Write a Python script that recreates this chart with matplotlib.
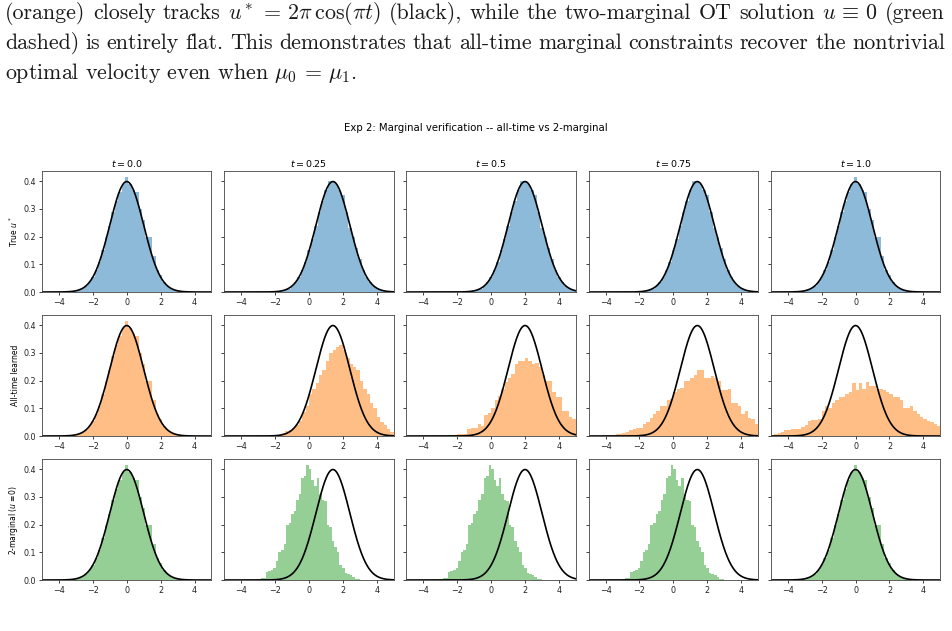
import numpy as np
import matplotlib
matplotlib.use('Agg')
import matplotlib.pyplot as plt

# ---------------- data ----------------
times = [0.0, 0.25, 0.5, 0.75, 1.0]
means = [0.0, 1.414, 2.0, 1.414, 0.0]   # mean of the true marginal (black curve), std = 1
sigma = 1.0
row_labels = ['True $u^*$', 'All-time learned', '2-marginal ($u\\equiv 0$)']
suptitle = 'Exp 2: Marginal verification -- all-time vs 2-marginal'

# standard-normal-like sample histogram (bin centres -4.0 .. 4.0, width 0.2)
gauss_a = [0, 0, 0, 0.001, 0.002, 0.004, 0.008, 0.013, 0.022, 0.035, 0.054,
           0.08, 0.11, 0.15, 0.20, 0.24, 0.29, 0.33, 0.36, 0.39, 0.415,
           0.39, 0.37, 0.36, 0.30, 0.26, 0.20, 0.20, 0.13, 0.08, 0.06,
           0.035, 0.022, 0.013, 0.008, 0.004, 0.002, 0.001, 0, 0, 0]
# shifted true-marginal histogram (centres relative to the mean, -4.0 .. 4.0)
gauss_b = [0, 0, 0, 0, 0, 0.004, 0.006, 0.012, 0.02, 0.035, 0.055,
           0.08, 0.11, 0.15, 0.19, 0.24, 0.29, 0.33, 0.37, 0.40, 0.40,
           0.39, 0.37, 0.35, 0.29, 0.23, 0.20, 0.16, 0.12, 0.08, 0.055,
           0.035, 0.022, 0.013, 0.008, 0.004, 0, 0, 0, 0, 0]
# all-time learned histograms (bin centres -4.9 .. 4.9, width 0.2)
learned_t025 = [0] * 15 + [
    0.003, 0.005, 0.01, 0.018, 0.022, 0.028, 0.038, 0.055, 0.085, 0.11,
    0.15, 0.17, 0.19, 0.22, 0.24, 0.27, 0.30, 0.31, 0.32, 0.33,
    0.31, 0.28, 0.26, 0.25, 0.24, 0.20, 0.17, 0.15, 0.12, 0.10,
    0.07, 0.05, 0.04, 0.025, 0.015]
learned_t050 = [0] * 13 + [
    0.002, 0.005, 0.006, 0.007, 0.009, 0.025, 0.028, 0.03, 0.045, 0.035,
    0.075, 0.082, 0.10, 0.13, 0.145, 0.17, 0.195, 0.21, 0.225, 0.26,
    0.27, 0.27, 0.28, 0.27, 0.26, 0.265, 0.25, 0.22, 0.20, 0.20,
    0.16, 0.14, 0.14, 0.09, 0.09, 0.07, 0.06]
learned_t075 = [0, 0, 0, 0.001, 0.002, 0.003, 0.004, 0.005, 0.006, 0.008,
                0.012, 0.014, 0.02, 0.025, 0.028, 0.03, 0.045, 0.05, 0.065, 0.08,
                0.09, 0.11, 0.11, 0.13, 0.135, 0.16, 0.17, 0.175, 0.20, 0.20,
                0.21, 0.22, 0.24, 0.24, 0.21, 0.21, 0.215, 0.21, 0.20, 0.165,
                0.165, 0.17, 0.12, 0.12, 0.11, 0.08, 0.09, 0.065, 0.06, 0.045]
learned_t100 = [0.005, 0.008, 0.012, 0.014, 0.02, 0.022, 0.024, 0.025, 0.026, 0.032,
                0.038, 0.055, 0.057, 0.058, 0.06, 0.09, 0.11, 0.10, 0.12, 0.13,
                0.14, 0.14, 0.15, 0.16, 0.19, 0.165, 0.19, 0.17, 0.195, 0.18,
                0.18, 0.17, 0.17, 0.165, 0.16, 0.15, 0.14, 0.14, 0.13, 0.10,
                0.10, 0.11, 0.09, 0.08, 0.07, 0.06, 0.055, 0.05, 0.045, 0.035]
# 2-marginal (u = 0) histogram at interior times (bin centres -2.925 .. 2.925, width 0.15)
twomarg_mid = [0.004, 0.006, 0.008, 0.03, 0.032, 0.035, 0.045, 0.07, 0.10, 0.11,
               0.13, 0.20, 0.205, 0.24, 0.25, 0.29, 0.31, 0.37, 0.375, 0.415,
               0.40, 0.36, 0.34, 0.37, 0.31, 0.29, 0.285, 0.20, 0.19, 0.14,
               0.12, 0.10, 0.055, 0.045, 0.025, 0.022, 0.018, 0.01, 0.005, 0.002]

# paper text around the figure
para_lines = [
    r"(orange) closely tracks $u^*\,=\,2\pi\,\cos(\pi t)$ (black), while the two-marginal OT solution $u\,\equiv\,0$ (green",
    "dashed) is entirely flat. This demonstrates that all-time marginal constraints recover the nontrivial",
    r"optimal velocity even when $\mu_0\,=\,\mu_1$.",
]

# ---------------- figure ----------------
W, H = 952, 631
fig = plt.figure(figsize=(W / 100, H / 100), dpi=100)
axes = fig.subplots(3, 5, sharey=True)
fig.subplots_adjust(left=0.0441, right=0.9877, top=0.729, bottom=0.0808,
                    wspace=0.075, hspace=0.19)

colors = ['C0', 'C1', 'C2']
edges_g = np.linspace(-4.1, 4.1, 42)
edges_l = np.linspace(-5.0, 5.0, 51)
edges_m = np.linspace(-3.0, 3.0, 41)
xs = np.linspace(-5, 5, 400)

panels = [
    [(gauss_a, edges_g + means[0]), (gauss_b, edges_g + means[1]), (gauss_b, edges_g + means[2]),
     (gauss_b, edges_g + means[3]), (gauss_a, edges_g + means[4])],
    [(gauss_a, edges_g), (learned_t025, edges_l), (learned_t050, edges_l),
     (learned_t075, edges_l), (learned_t100, edges_l)],
    [(gauss_a, edges_g), (twomarg_mid, edges_m), (twomarg_mid, edges_m),
     (twomarg_mid, edges_m), (gauss_a, edges_g)],
]

for r in range(3):
    for c in range(5):
        ax = axes[r, c]
        h, e = panels[r][c]
        ax.stairs(h, e, fill=True, color=colors[r], alpha=0.5, linewidth=0)
        pdf = np.exp(-0.5 * ((xs - means[c]) / sigma) ** 2) / (sigma * np.sqrt(2 * np.pi))
        ax.plot(xs, pdf, color='black', lw=1.2)
        ax.set_xlim(-5, 5)
        ax.set_ylim(0, 0.437)
        ax.set_xticks([-4, -2, 0, 2, 4])
        ax.set_yticks([0.0, 0.1, 0.2, 0.3, 0.4])
        ax.tick_params(labelsize=5.8, length=2.5, width=0.6, pad=1.5, colors='#222222')
        for sp in ax.spines.values():
            sp.set_linewidth(0.6)
            sp.set_color('#444444')
        if r == 0:
            ax.set_title(f'$t = {times[c]}$', fontsize=6.8, pad=3)
        if c == 0:
            ax.set_ylabel(row_labels[r], fontsize=5.5, labelpad=3)

fig.suptitle(suptitle, fontsize=7.3, y=1 - 128 / H, va='center')

# justified paper text
renderer = fig.canvas.get_renderer()
fs = 15.0
base = [19, 49, 79]
tmp = fig.text(0, 0, para_lines[2], fontsize=fs, family='cmr10', math_fontfamily='cm')
w3 = tmp.get_window_extent(renderer).width
tmp.remove()
fs = fs * 352.0 / w3
txt_color = '#1a1a1a'

def place_line(line, yb, justify):
    # split into tokens, keeping $...$ math segments intact
    toks, cur, inmath = [], '', False
    for ch in line:
        if ch == '$':
            inmath = not inmath
            cur += ch
        elif ch == ' ' and not inmath:
            if cur:
                toks.append(cur)
            cur = ''
        else:
            cur += ch
    if cur:
        toks.append(cur)
    y = 1 - yb / H
    if not justify:
        fig.text(5 / W, y, line, fontsize=fs, family='cmr10', math_fontfamily='cm',
                 va='baseline', color=txt_color)
        return
    arts = [fig.text(0, y, t, fontsize=fs, family='cmr10', math_fontfamily='cm',
                     va='baseline', color=txt_color)
            for t in toks]
    widths = [a.get_window_extent(renderer).width for a in arts]
    x0, x1 = 5.0, 945.0
    gap = (x1 - x0 - sum(widths)) / (len(arts) - 1)
    x = x0
    for a, w in zip(arts, widths):
        a.set_x(x / W)
        x += w + gap

place_line(para_lines[0], base[0], True)
place_line(para_lines[1], base[1], True)
place_line(para_lines[2], base[2], False)

fig.savefig('out.png', dpi=100)
